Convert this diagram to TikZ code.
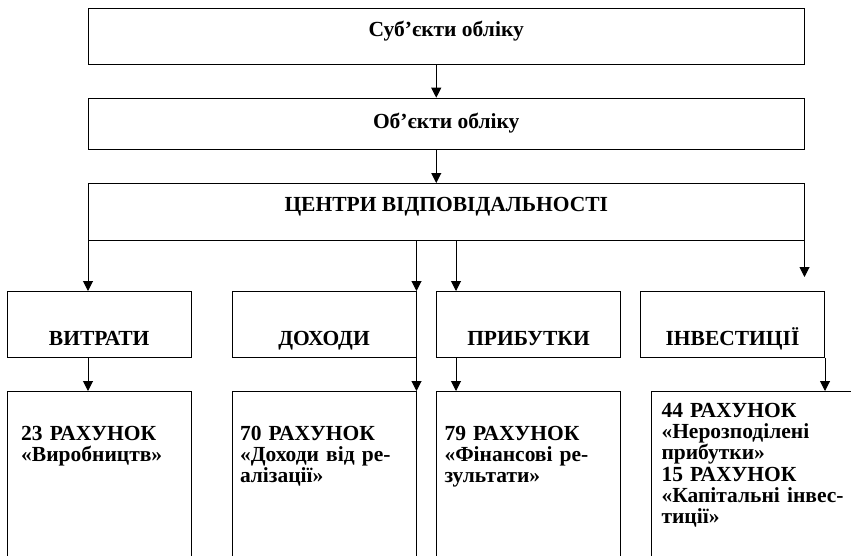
\documentclass[tikz,border=0pt]{standalone}
\usepackage{fontspec}
\setmainfont{Liberation Serif}
\usetikzlibrary{arrows.meta, positioning}

\begin{document}
\begin{tikzpicture}[x=1pt, y=-1pt,
    box/.style={rectangle, draw=black, line width=1pt, inner sep=0pt, anchor=north west, font=\bfseries\fontsize{21.5}{21}\selectfont},
    level/.style={box, minimum width=715.5pt, text height=14pt, text depth=14pt},
    sphere/.style={box, minimum width=184pt, minimum height=66pt, text height=46pt, text depth=4pt},
    account/.style={box, align=left, inner xsep=10pt, text height=49pt, text depth=200pt},
    arr/.style={-{Triangle[length=10pt, width=10pt]}, line width=1pt}
]
\useasboundingbox (0,0) rectangle (851,555);
\clip (0,0) rectangle (851,555);

% levels of accounting
\node[level, minimum height=56pt] (subj) at (88,8.3) {Суб’єкти обліку};
\node[level, minimum height=51.5pt, text depth=4pt] (obj) at (88,97.7) {Об’єкти обліку};
\node[level, minimum height=56.5pt] (centre) at (88,183) {ЦЕНТРИ ВІДПОВІДАЛЬНОСТІ};

% responsibility areas
\node[sphere] (vytr) at (6.7,291) {ВИТРАТИ};
\node[sphere] (dokh) at (231.5,291) {ДОХОДИ};
\node[sphere] (prib) at (436,291) {ПРИБУТКИ};
\node[sphere] (inv) at (640,291) {ІНВЕСТИЦІЇ};

% accounts
\node[account, inner xsep=14pt, text width=156pt] (acc23) at (6.7,391) {23 РАХУНОК\\«Виробництв»};
\node[account, inner xsep=8pt, text width=168pt] (acc70) at (231.5,391) {70 РАХУНОК\\«Доходи від ре-\\алізації»};
\node[account, inner xsep=8pt, text width=168pt] (acc79) at (436,391) {79 РАХУНОК\\«Фінансові ре-\\зультати»};
\node[account, text width=200pt, text height=26pt, font=\bfseries\fontsize{21.5}{21.2}\selectfont] (acc44) at (651,391) {44 РАХУНОК\\«Нерозподілені\\прибутки»\\15 РАХУНОК\\«Капітальні інвес-\\тиції»};

\coordinate (pribin) at ([xshift=20pt]prib.north west);
\coordinate (pribout) at ([xshift=20pt]prib.south west);
\coordinate (invtip) at ([yshift=14pt]centre.south east |- inv.north);

\draw[arr] ([xshift=-10pt]subj.south) -- ([xshift=-10pt]obj.north);
\draw[arr] ([xshift=-10pt]obj.south) -- ([xshift=-10pt]centre.north);
\draw[arr] (centre.south west) -- (centre.south west |- vytr.north);
\draw[arr] (dokh.north east |- centre.south) -- (dokh.north east);
\draw[arr] (pribin |- centre.south) -- (pribin);
\draw[arr] (centre.south east) -- (centre.south east |- invtip);
\draw[arr] (centre.south west |- vytr.south) -- (centre.south west |- acc23.north);
\draw[arr] (dokh.south east) -- (dokh.south east |- acc70.north);
\draw[arr] (pribout) -- (pribout |- acc79.north);
\draw[arr] (inv.south east) -- (inv.south east |- acc44.north);
\end{tikzpicture}
\end{document}
